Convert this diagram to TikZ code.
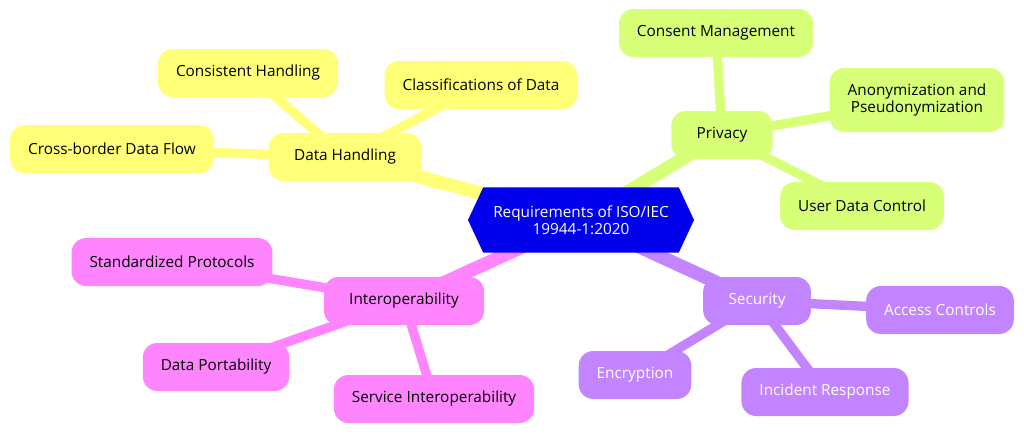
\documentclass[tikz,border=0pt]{standalone}
\usepackage{fontspec}
\setmainfont{Open Sans}
\usepackage{xcolor}
\usepackage{tikz}
\usetikzlibrary{shapes.symbols, backgrounds}

\definecolor{rootblue}{RGB}{0,0,236}
\definecolor{handyellow}{RGB}{255,255,120}
\definecolor{privgreen}{RGB}{215,255,120}
\definecolor{secpurple}{RGB}{194,133,255}
\definecolor{interpink}{RGB}{255,133,255}

\begin{document}
\begin{tikzpicture}[x=0.75pt, y=-0.75pt, font=\fontsize{11.5}{13}\selectfont,
    topic/.style={rectangle, rounded corners=11pt, minimum height=36pt, inner xsep=13.5pt, align=center},
    section/.style={topic, inner xsep=19pt},
    root/.style={signal, signal to=east and west, signal pointer angle=130, fill=rootblue, text=white, minimum width=169.5pt, minimum height=49pt, inner xsep=2pt, align=center},
    trunk/.style={line width=10pt},
    twig/.style={line width=7pt}]

\useasboundingbox (0,0) rectangle (1024,433);

\node[root] (req) at (581,220) {Requirements of ISO/IEC\\19944-1:2020};

\node[section, fill=handyellow] (handling) at (345,157) {Data Handling};
\node[topic, fill=handyellow] (crossborder) at (112,149) {Cross-border Data Flow};
\node[topic, fill=handyellow] (consistent) at (248,73) {Consistent Handling};
\node[topic, fill=handyellow] (classes) at (481,85) {Classifications of Data};

\node[section, fill=privgreen] (privacy) at (722,135) {Privacy};
\node[topic, fill=privgreen] (consent) at (716,33) {Consent Management};
\node[topic, fill=privgreen, minimum height=48pt] (anon) at (917,100) {Anonymization and\\Pseudonymization};
\node[topic, fill=privgreen] (userctl) at (862,206) {User Data Control};

\node[section, fill=secpurple, text=white] (security) at (757,301) {Security};
\node[topic, fill=secpurple, text=white] (access) at (940,310) {Access Controls};
\node[topic, fill=secpurple, text=white] (incident) at (825,392) {Incident Response};
\node[topic, fill=secpurple, text=white] (encrypt) at (635,375) {Encryption};

\node[section, fill=interpink] (interop) at (404,301) {Interoperability};
\node[topic, fill=interpink] (protocols) at (172,262) {Standardized Protocols};
\node[topic, fill=interpink] (portab) at (216,367) {Data Portability};
\node[topic, fill=interpink] (service) at (434,399) {Service Interoperability};

\begin{pgfonlayer}{background}
\draw[trunk, handyellow] (req.center) -- (handling.center);
\draw[twig, handyellow] (handling.center) -- (crossborder.center);
\draw[twig, handyellow] (handling.center) -- (consistent.center);
\draw[twig, handyellow] (handling.center) -- (classes.center);
\draw[trunk, privgreen] (req.center) -- (privacy.center);
\draw[twig, privgreen] (privacy.center) -- (consent.center);
\draw[twig, privgreen] (privacy.center) -- (anon.center);
\draw[twig, privgreen] (privacy.center) -- (userctl.center);
\draw[trunk, secpurple] (req.center) -- (security.center);
\draw[twig, secpurple] (security.center) -- (access.center);
\draw[twig, secpurple] (security.center) -- (incident.center);
\draw[twig, secpurple] (security.center) -- (encrypt.center);
\draw[trunk, interpink] (req.center) -- (interop.center);
\draw[twig, interpink] (interop.center) -- (protocols.center);
\draw[twig, interpink] (interop.center) -- (portab.center);
\draw[twig, interpink] (interop.center) -- (service.center);
\end{pgfonlayer}
\end{tikzpicture}
\end{document}
